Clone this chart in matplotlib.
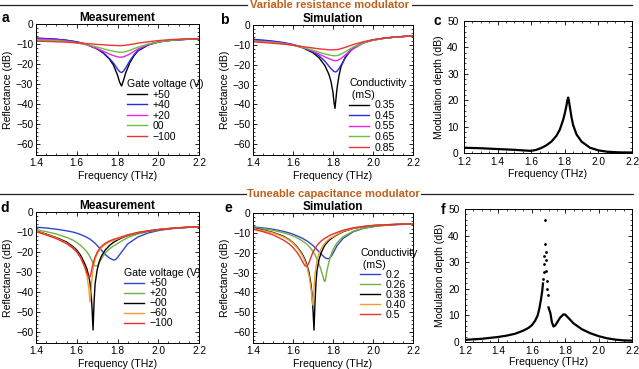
import matplotlib
matplotlib.use("Agg")
import matplotlib.pyplot as plt
from matplotlib.lines import Line2D
from matplotlib.ticker import MultipleLocator

plt.rcParams['font.family'] = ['Liberation Sans', 'DejaVu Sans']
plt.rcParams['axes.unicode_minus'] = True

# ---------------- data ----------------
# Panel a: measurement, variable resistance
freq_a = [1.40,1.45,1.50,1.55,1.60,1.65,1.70,1.73,1.76,1.78,1.80,1.81,1.82,1.83,1.84,1.86,1.88,1.90,1.95,2.00,2.05,2.10,2.15,2.20]
a_p50 = [-7.2,-7.4,-7.7,-8.2,-9.0,-10.3,-12.5,-14.5,-17.5,-20.5,-25.5,-29.0,-31.0,-28.0,-24.5,-19.5,-16.0,-13.5,-10.5,-9.0,-8.3,-7.9,-7.6,-7.4]
a_p40 = [-7.0,-7.3,-7.6,-8.1,-8.9,-10.2,-12.4,-14.3,-17.2,-19.5,-22.5,-23.8,-24.3,-23.5,-22.0,-18.5,-15.5,-13.3,-10.4,-9.0,-8.3,-7.9,-7.6,-7.4]
a_p20 = [-7.5,-7.7,-8.0,-8.5,-9.3,-10.5,-12.3,-13.6,-15.0,-15.8,-16.4,-16.6,-16.6,-16.4,-16.0,-15.0,-13.8,-12.5,-10.3,-9.0,-8.2,-7.8,-7.5,-7.3]
a_00 = [-8.0,-8.2,-8.4,-8.8,-9.4,-10.3,-11.5,-12.4,-13.2,-13.6,-14.0,-14.1,-14.1,-14.0,-13.8,-13.2,-12.4,-11.6,-10.0,-9.0,-8.3,-7.8,-7.5,-7.3]
a_m100 = [-8.6,-8.7,-8.9,-9.1,-9.4,-9.8,-10.2,-10.4,-10.6,-10.7,-10.8,-10.8,-10.8,-10.7,-10.6,-10.3,-10.0,-9.6,-8.9,-8.3,-7.9,-7.6,-7.4,-7.3]
labels_a = ['+50', '+40', '+20', '00', '\u2212100']

# Panel b: simulation, variable resistance
freq_b = [1.40,1.45,1.50,1.55,1.60,1.65,1.70,1.73,1.76,1.78,1.79,1.80,1.805,1.81,1.815,1.82,1.83,1.84,1.86,1.88,1.90,1.95,2.00,2.05,2.10,2.15,2.20]
b_035 = [-7.6,-8.0,-8.4,-9.0,-10.0,-11.5,-14.0,-16.5,-20.5,-25.0,-28.5,-34.0,-39.0,-42.0,-37.0,-32.0,-25.5,-21.0,-16.5,-13.5,-11.5,-8.8,-7.5,-6.7,-6.2,-5.8,-5.5]
b_045 = [-7.2,-7.6,-8.1,-8.8,-9.8,-11.3,-13.6,-15.5,-18.3,-20.8,-22.0,-23.0,-23.4,-23.6,-23.6,-23.2,-22.0,-20.3,-16.8,-14.0,-12.0,-9.0,-7.6,-6.8,-6.2,-5.8,-5.5]
b_055 = [-7.8,-8.2,-8.6,-9.2,-10.1,-11.4,-13.2,-14.6,-16.1,-17.0,-17.4,-17.8,-17.9,-18.0,-18.0,-17.9,-17.5,-16.9,-15.2,-13.5,-12.0,-9.2,-7.7,-6.8,-6.2,-5.8,-5.5]
b_065 = [-8.1,-8.4,-8.8,-9.4,-10.2,-11.3,-12.7,-13.7,-14.6,-15.1,-15.3,-15.4,-15.5,-15.5,-15.5,-15.4,-15.1,-14.7,-13.6,-12.4,-11.2,-9.0,-7.6,-6.8,-6.2,-5.8,-5.5]
b_085 = [-8.5,-8.8,-9.2,-9.6,-10.2,-10.9,-11.6,-12.0,-12.3,-12.5,-12.5,-12.5,-12.5,-12.5,-12.4,-12.4,-12.2,-11.9,-11.3,-10.6,-9.9,-8.5,-7.4,-6.7,-6.1,-5.8,-5.5]
labels_b = ['0.35', '0.45', '0.55', '0.65', '0.85']

# Panel c: modulation depth, variable resistance
freq_c = [1.20,1.30,1.40,1.50,1.55,1.60,1.63,1.66,1.69,1.72,1.75,1.77,1.79,1.80,1.81,1.815,1.82,1.825,1.83,1.84,1.85,1.87,1.90,1.95,2.00,2.05,2.10,2.15,2.20]
depth_c = [2.0,1.8,1.5,1.2,1.0,0.8,1.2,1.9,2.9,4.3,6.5,8.8,12.5,15.0,18.0,19.8,21.0,19.5,17.5,13.5,10.5,7.0,4.3,2.0,1.0,0.5,0.3,0.2,0.2]

# Panel d: measurement, tuneable capacitance
freq_d = [1.40,1.45,1.50,1.55,1.58,1.60,1.62,1.64,1.65,1.66,1.665,1.67,1.675,1.68,1.685,1.69,1.70,1.71,1.72,1.74,1.76,1.78,1.79,1.80,1.82,1.85,1.90,1.95,2.00,2.05,2.10,2.15,2.20]
d_p50 = [-7.6,-8.0,-8.6,-9.4,-10.0,-10.6,-11.3,-12.2,-12.7,-13.3,-13.6,-14.0,-14.4,-14.8,-15.2,-15.7,-16.7,-17.8,-19.0,-21.2,-23.0,-24.0,-23.8,-22.8,-20.0,-16.0,-12.5,-10.5,-9.3,-8.5,-8.0,-7.7,-7.4]
d_p20 = [-8.8,-9.8,-11.0,-12.7,-14.0,-15.2,-16.8,-18.8,-20.0,-21.5,-22.4,-23.4,-24.5,-25.6,-26.4,-26.9,-27.0,-25.5,-23.5,-20.5,-18.5,-17.0,-16.4,-15.8,-14.5,-12.8,-11.0,-9.8,-9.0,-8.4,-7.9,-7.6,-7.4]
d_m00 = [-9.5,-11.0,-12.8,-15.0,-17.2,-19.0,-21.8,-26.0,-28.5,-32.5,-35.5,-40.0,-48.0,-59.0,-45.0,-36.0,-29.0,-25.0,-22.3,-19.0,-16.8,-15.2,-14.6,-14.0,-13.0,-11.8,-10.4,-9.5,-8.8,-8.3,-7.9,-7.6,-7.4]
d_m60 = [-9.6,-11.2,-13.0,-15.5,-17.8,-19.8,-23.0,-28.0,-32.0,-39.0,-45.0,-40.0,-33.0,-28.5,-25.8,-23.8,-21.0,-19.2,-17.9,-16.2,-15.0,-14.2,-13.8,-13.5,-12.7,-11.6,-10.3,-9.4,-8.8,-8.3,-7.9,-7.6,-7.4]
d_m100 = [-9.8,-11.5,-13.3,-15.8,-18.0,-20.0,-23.0,-27.5,-30.5,-33.0,-32.5,-30.5,-28.0,-25.8,-24.0,-22.5,-20.2,-18.6,-17.3,-15.6,-14.5,-13.7,-13.4,-13.1,-12.4,-11.4,-10.2,-9.4,-8.8,-8.3,-7.9,-7.6,-7.4]
labels_d = ['+50', '+20', '\u221200', '\u221260', '\u2212100']

# Panel e: simulation, tuneable capacitance
freq_e = [1.40,1.45,1.50,1.55,1.58,1.60,1.62,1.64,1.65,1.66,1.67,1.68,1.69,1.695,1.70,1.705,1.71,1.715,1.72,1.73,1.74,1.75,1.755,1.76,1.765,1.77,1.78,1.79,1.80,1.82,1.85,1.90,1.95,2.00,2.05,2.10,2.15,2.20]
e_020 = [-7.0,-7.5,-8.2,-9.2,-10.0,-10.7,-11.5,-12.4,-12.9,-13.5,-14.1,-14.8,-15.6,-16.0,-16.4,-16.9,-17.4,-17.9,-18.4,-19.5,-20.6,-21.6,-22.1,-22.5,-22.8,-23.0,-23.0,-22.0,-20.3,-16.5,-12.8,-9.5,-7.8,-6.9,-6.3,-5.9,-5.7,-5.5]
e_026 = [-7.3,-7.9,-8.7,-9.9,-10.8,-11.6,-12.5,-13.6,-14.3,-15.0,-15.8,-16.8,-18.0,-18.7,-19.4,-20.2,-21.1,-22.1,-23.2,-25.6,-28.6,-32.0,-34.0,-34.5,-32.0,-29.0,-24.5,-21.0,-18.5,-15.0,-12.0,-9.2,-7.7,-6.8,-6.3,-5.9,-5.7,-5.5]
e_038 = [-7.6,-8.6,-9.8,-11.6,-13.4,-15.0,-17.0,-19.7,-21.4,-23.5,-26.2,-30.0,-36.0,-41.0,-49.0,-59.0,-45.0,-35.0,-29.0,-23.5,-20.3,-18.0,-17.0,-16.2,-15.5,-14.9,-13.8,-13.0,-12.3,-11.0,-9.4,-7.8,-6.9,-6.3,-6.0,-5.8,-5.6,-5.5]
e_040 = [-7.8,-8.8,-10.0,-11.9,-13.6,-15.2,-17.3,-20.2,-22.0,-24.3,-27.2,-31.5,-38.0,-43.0,-46.5,-38.0,-31.0,-27.0,-24.0,-20.5,-18.2,-16.5,-15.8,-15.2,-14.6,-14.1,-13.2,-12.5,-12.0,-10.8,-9.2,-7.7,-6.9,-6.3,-6.0,-5.8,-5.6,-5.5]
e_050 = [-8.2,-9.4,-11.0,-13.5,-15.5,-17.4,-19.8,-23.0,-25.0,-26.6,-27.0,-25.0,-22.2,-21.0,-19.8,-18.8,-17.9,-17.1,-16.4,-15.2,-14.2,-13.4,-13.0,-12.7,-12.4,-12.1,-11.5,-11.0,-10.6,-9.8,-8.7,-7.5,-6.8,-6.3,-6.0,-5.8,-5.6,-5.5]
labels_e = ['0.2', '0.26', '0.38', '0.40', '0.5']

# Panel f: modulation depth, tuneable capacitance
freq_f1 = [1.20,1.30,1.40,1.45,1.50,1.55,1.58,1.60,1.62,1.635,1.645,1.655,1.662,1.667]
depth_f1 = [0.8,1.2,1.9,2.4,3.1,4.3,5.3,6.3,8.0,10.0,12.5,16.0,19.0,22.0]
freq_fp = [1.669,1.672,1.674,1.676,1.677,1.680,1.683,1.684,1.686,1.689,1.692,1.695]
depth_fp = [23.5,26.5,29.5,32.5,37.0,45.7,33.7,31.0,26.6,22.9,20.0,17.5]
freq_f2 = [1.700,1.705,1.710,1.715,1.72,1.73,1.74,1.75,1.77,1.79,1.80,1.82,1.85,1.90,1.95,2.00,2.05,2.10,2.15,2.20]
depth_f2 = [13.0,12.0,11.2,9.5,7.5,5.8,6.2,7.2,9.2,10.4,10.3,9.0,7.0,4.8,3.3,2.2,1.4,0.9,0.6,0.5]

# ---------------- styling ----------------
W, H = 639, 369
fig = plt.figure(figsize=(W / 100, H / 100), dpi=100)

def add_ax(l, t, r, b):
    return fig.add_axes([l / W, 1 - b / H, (r - l) / W, (b - t) / H])

FS = 7.3
ORANGE = '#c0601c'

def style(ax, xmin, ymin, ymax, ymaj, ymin_step, xpad=2, lpad=2, ypad=2):
    ax.set_xlim(xmin, 2.2)
    ax.set_ylim(ymin, ymax)
    ax.xaxis.set_major_locator(MultipleLocator(0.2))
    ax.xaxis.set_minor_locator(MultipleLocator(0.05))
    ax.yaxis.set_major_locator(MultipleLocator(ymaj))
    ax.yaxis.set_minor_locator(MultipleLocator(ymin_step))
    ax.tick_params(which='both', direction='in', top=True, right=True, labelsize=FS)
    ax.tick_params(axis='x', pad=xpad)
    ax.tick_params(axis='y', pad=ypad)
    ax.tick_params(which='major', length=3, width=0.6)
    ax.tick_params(which='minor', length=1.5, width=0.5)
    ax.xaxis.set_major_formatter(plt.FuncFormatter(lambda v, p: f'{v:.1f}'))
    for s in ax.spines.values():
        s.set_linewidth(0.7)
    ax.set_xlabel('Frequency (THz)', fontsize=FS + 0.3, labelpad=lpad)

def legend(ax, title, x, y, spacing):
    lg = ax.legend(title=title, loc='upper left', bbox_to_anchor=(x, y), frameon=False,
                   fontsize=FS + 0.3, title_fontsize=FS + 0.3, handlelength=1.9,
                   handletextpad=0.5, labelspacing=spacing, borderpad=0, borderaxespad=0,
                   alignment='left')
    return lg

# colours
c1 = ['black', '#2a2ae0', '#ee22ee', '#66c43a', '#ee3333']
c2 = ['#3344cc', '#77b040', 'black', '#f0a030', '#e83030']

# Panel a
ax = add_ax(36, 24, 199, 155)
for y, c, lab in zip([a_p50, a_p40, a_p20, a_00, a_m100], c1, labels_a):
    ax.plot(freq_a, y, color=c, lw=1.0, label=lab)
style(ax, 1.4, -65.5, 0, 10, 2)
ax.set_ylabel('Reflectance (dB)', fontsize=FS + 0.3, labelpad=2)
ax.set_title('Measurement', fontsize=8.5, fontweight='bold', pad=2)
legend(ax, 'Gate voltage (V)', 0.56, 0.58, 0.05)

# Panel b
ax = add_ax(253, 25, 413, 155)
for y, c, lab in zip([b_035, b_045, b_055, b_065, b_085], c1, labels_b):
    ax.plot(freq_b, y, color=c, lw=1.0, label=lab)
style(ax, 1.4, -65.5, 0, 10, 2)
ax.set_ylabel('Reflectance (dB)', fontsize=FS + 0.3, labelpad=2)
ax.set_title('Simulation', fontsize=8.5, fontweight='bold', pad=2)
legend(ax, 'Conductivity\n (mS)', 0.6, 0.59, 0.05)

# Panel c
ax = add_ax(464, 21, 632, 153)
ax.plot(freq_c, depth_c, color='black', lw=1.6)
style(ax, 1.2, 0, 50, 10, 2, xpad=3.2, lpad=1, ypad=4)
ax.set_ylabel('Modulation depth (dB)', fontsize=FS + 0.3, labelpad=2)

# Panel d
ax = add_ax(36, 212, 199, 343)
for y, c, lab in zip([d_p50, d_p20, d_m00, d_m60, d_m100], c2, labels_d):
    ax.plot(freq_d, y, color=c, lw=1.0, label=lab)
style(ax, 1.4, -65.5, 0, 10, 2)
ax.set_ylabel('Reflectance (dB)', fontsize=FS + 0.3, labelpad=2)
ax.set_title('Measurement', fontsize=8.5, fontweight='bold', pad=2)
legend(ax, 'Gate voltage (V)', 0.54, 0.57, 0.0)

# Panel e
ax = add_ax(253, 213, 413, 343)
for y, c, lab in zip([e_020, e_026, e_038, e_040, e_050], c2, labels_e):
    ax.plot(freq_e, y, color=c, lw=1.0, label=lab)
style(ax, 1.4, -65.5, 0, 10, 2)
ax.set_ylabel('Reflectance (dB)', fontsize=FS + 0.3, labelpad=2)
ax.set_title('Simulation', fontsize=8.5, fontweight='bold', pad=2)
legend(ax, 'Conductivity\n (mS)', 0.67, 0.73, 0.0)

# Panel f
ax = add_ax(465, 209, 632, 342)
ax.plot(freq_f1, depth_f1, color='black', lw=1.6)
ax.plot(freq_fp, depth_fp, 'k.', ms=2.0)
ax.plot(freq_f2, depth_f2, color='black', lw=1.6)
style(ax, 1.2, 0, 50, 10, 2, xpad=3.2, lpad=0.5, ypad=4)
ax.set_ylabel('Modulation depth (dB)', fontsize=FS + 0.3, labelpad=2)

# panel letters
for lt, x, y in [('a', 5, 18), ('b', 224, 20), ('c', 437, 21), ('d', 5, 208), ('e', 228, 208), ('f', 443, 210)]:
    fig.text(x / W, 1 - y / H, lt, fontsize=10, fontweight='bold', ha='center', va='center')

# section headers
def header(text, y, x0, x1, x2, x3, xc):
    yy = 1 - y / H
    fig.add_artist(Line2D([x0 / W, x1 / W], [yy, yy], color='#222222', lw=0.9))
    fig.add_artist(Line2D([x2 / W, x3 / W], [yy, yy], color='#222222', lw=0.9))
    fig.text(xc / W, yy, text, color=ORANGE, fontsize=8, fontweight='bold', ha='center', va='center')

header('Variable resistance modulator', 5, 0, 247, 412, 632, 330)
header('Tuneable capacitance modulator', 194, 0, 246, 421, 633, 333)

fig.savefig('out.png', dpi=100)
